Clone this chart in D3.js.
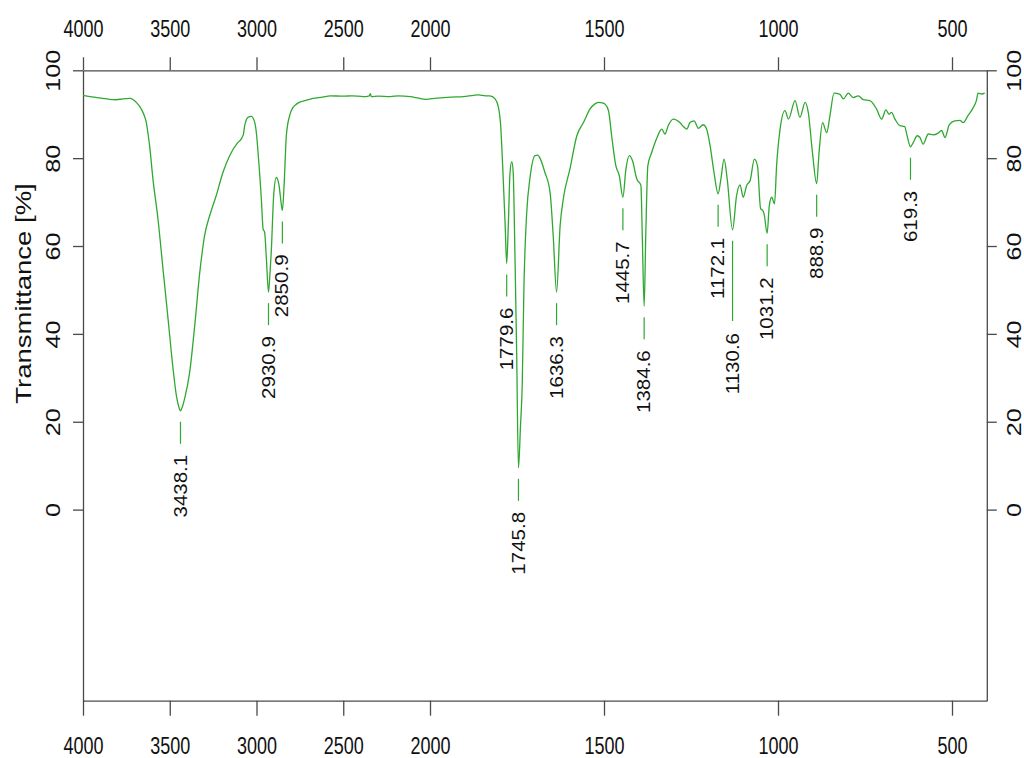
<!DOCTYPE html>
<html>
<head>
<meta charset="utf-8">
<script src="https://cdn.jsdelivr.net/npm/d3@7"></script>
<style>
  html, body { margin: 0; padding: 0; background: #fff; }
  svg { display: block; font-family: "Liberation Sans", Arial, Helvetica, sans-serif; }
</style>
</head>
<body>
<svg id="chart" width="1024" height="758"></svg>
<script>
// Wavenumber (cm-1) tick values shown on the top and bottom axes
const xTicks = [4000, 3500, 3000, 2500, 2000, 1500, 1000, 500];
// Transmittance ticks (%)
const yTicks = [0, 20, 40, 60, 80, 100];

// IR spectrum: [wavenumber, transmittance %]
const spectrum = [
  [4000, 94.3], [3960, 94.0], [3920, 93.8], [3885, 93.6], [3850, 93.4], [3808, 93.3],
  [3770, 93.5], [3731, 93.6], [3710, 93.3], [3693, 92.7], [3664, 91.2], [3645, 89.5],
  [3635, 88.1], [3625, 85.5], [3616, 82.8], [3597, 75.3], [3568, 66.2], [3539, 54.8],
  [3510, 43.5], [3481, 32.1], [3462, 26.0], [3448, 23.4], [3438.1, 22.5], [3428, 23.3],
  [3414, 25.3], [3385, 31.3], [3356, 41.9], [3327, 54.0], [3310, 59.5], [3299, 62.4],
  [3270, 66.9], [3232, 71.5], [3193, 76.8], [3154, 80.6], [3107, 83.6], [3087, 84.4],
  [3080, 85.0], [3076, 85.3], [3068, 87.4], [3049, 89.3], [3030, 89.5], [3010, 88.1],
  [3000, 85.5], [2991, 81.3], [2972, 70.7], [2962, 63.9], [2953, 63.1], [2943, 57.1],
  [2930.9, 49.5], [2922, 54.0], [2915, 58.6], [2901, 71.5], [2886, 75.6], [2870, 73.8],
  [2863, 71.5], [2850.9, 68.1], [2841, 73.8], [2828, 85.1], [2809, 89.7], [2790, 91.5],
  [2770, 92.3], [2740, 92.9], [2712, 93.2], [2674, 93.6], [2620, 93.9], [2575, 94.2],
  [2500, 94.1], [2450, 94.2], [2383, 94.0], [2350, 94.2], [2344, 94.7], [2338, 94.0],
  [2300, 94.1], [2229, 94.0], [2180, 94.2], [2114, 94.0], [2070, 93.7], [2027, 93.4],
  [2000, 93.5], [1971, 93.7], [1940, 93.9], [1904, 94.0], [1875, 94.3], [1861, 94.4],
  [1840, 94.2], [1828, 94.2], [1813, 93.5], [1804, 91.8], [1797, 87.5], [1791, 77.9],
  [1784, 64.7], [1779.6, 56.0], [1775, 64.7], [1770, 76.8], [1765, 79.2], [1761, 76.8],
  [1756, 58.6], [1751, 35.9], [1745.8, 9.5], [1740, 19.0], [1735, 28.3], [1730, 51.0],
  [1722, 67.7], [1713, 75.3], [1698, 80.6], [1690, 80.7], [1684, 80.0], [1670, 76.8],
  [1655, 72.2], [1646, 62.4], [1636.3, 49.5], [1626, 64.7], [1617, 70.7], [1598, 77.5],
  [1578, 85.1], [1559, 88.1], [1540, 91.2], [1527, 92.3], [1516, 92.7], [1505, 92.6],
  [1497, 92.3], [1487, 90.8], [1478, 85.1], [1466, 78.3], [1456, 76.0], [1445.7, 71.1],
  [1437, 77.5], [1427, 80.6], [1418, 79.4], [1406, 75.3], [1394, 73.8], [1390, 62.4],
  [1384.6, 46.3], [1380, 62.4], [1374, 78.3], [1363, 81.3], [1353, 83.6], [1349, 84.4],
  [1334, 86.6], [1325, 85.5], [1315, 87.5], [1301, 88.9], [1282, 88.1], [1272, 87.2],
  [1262, 86.6], [1253, 88.1], [1241, 88.5], [1229, 86.8], [1215, 87.6], [1205, 86.6],
  [1195, 82.8], [1184, 76.8], [1172.1, 71.9], [1164, 75.3], [1155, 79.8], [1146, 75.3],
  [1130.6, 63.7], [1119, 71.5], [1109, 73.9], [1100, 71.1], [1090, 73.8], [1080, 74.9],
  [1068, 79.8], [1059, 78.3], [1050, 68.5], [1044, 68.1], [1040, 67.3], [1031.2, 62.9],
  [1025, 69.2], [1018, 71.1], [1010, 69.6], [1004, 78.3], [994, 86.6], [980, 90.8],
  [970, 88.9], [951, 93.1], [937, 89.3], [922, 92.7], [913, 90.4], [901, 81.3],
  [888.9, 74.2], [882, 81.3], [872, 88.1], [860, 85.8], [851, 89.5], [839, 94.8],
  [822, 94.5], [812, 93.5], [798, 94.8], [784, 93.8], [769, 94.2], [755, 93.3],
  [736, 93.1], [717, 91.2], [702, 88.9], [690, 91.0], [681, 90.0], [674, 90.4],
  [664, 88.9], [650, 87.4], [636, 87.2], [629, 85.1], [619.3, 82.6], [611, 83.6],
  [600, 85.1], [592, 84.7], [583, 83.2], [568, 85.5], [554, 85.3], [540, 85.7],
  [530, 86.3], [520, 84.7], [508, 87.6], [492, 88.5], [477, 88.6], [468, 88.1],
  [454, 89.7], [439, 91.5], [430, 93.1], [425, 94.8], [415, 94.6], [406, 94.8]
];

// Labelled absorption bands (cm-1)
const peaks = [3438.1, 2930.9, 2850.9, 1779.6, 1745.8, 1636.3, 1445.7, 1384.6,
               1172.1, 1130.6, 1031.2, 888.9, 619.3];

const lineColor = "#2fa82f";
const axisColor = "#4a4a4a";

const svg = d3.select("#chart");

// Wavenumber axis is compressed 2:1 above 2000 cm-1
const x = d3.scaleLinear().domain([4000, 2000, 400]).range([83, 430, 986.8]);
const y = d3.scaleLinear().domain([-43.5, 100]).range([700.7, 70.3]);

// Frame lines drawn by the axes
function styleAxis(g) {
  g.selectAll("path.domain").attr("stroke", axisColor).attr("stroke-width", 1.3);
  g.selectAll(".tick line").attr("stroke", axisColor).attr("stroke-width", 1.3);
  g.selectAll(".tick text").attr("fill", "#111");
}

// Top axis
const gTop = svg.append("g").attr("transform", `translate(0,${y(100)})`)
  .call(d3.axisTop(x).tickValues(xTicks).tickSize(13).tickSizeOuter(0).tickFormat(d3.format("d")))
  .call(styleAxis);
gTop.selectAll(".tick text")
  .attr("y", null).attr("dy", null)
  .attr("font-size", 18)
  .attr("dominant-baseline", "central")
  .attr("transform", "translate(0,-41.5) scale(1,1.28)");

// Bottom axis
const gBot = svg.append("g").attr("transform", `translate(0,${y(-43.5)})`)
  .call(d3.axisBottom(x).tickValues(xTicks).tickSize(15).tickSizeOuter(0).tickFormat(d3.format("d")))
  .call(styleAxis);
gBot.selectAll(".tick text")
  .attr("y", null).attr("dy", null)
  .attr("font-size", 18)
  .attr("dominant-baseline", "central")
  .attr("transform", "translate(0,44.5) scale(1,1.28)");

// Left axis
const gLeft = svg.append("g").attr("transform", `translate(${x(4000)},0)`)
  .call(d3.axisLeft(y).tickValues(yTicks).tickSize(10).tickSizeOuter(0))
  .call(styleAxis);
gLeft.selectAll(".tick text")
  .attr("x", null).attr("dy", null)
  .attr("font-size", 21)
  .attr("text-anchor", "middle")
  .attr("dominant-baseline", "central")
  .attr("transform", "translate(-30.5,0) scale(1,1.2) rotate(-90)");

// Right axis
const gRight = svg.append("g").attr("transform", `translate(${x(400)},0)`)
  .call(d3.axisRight(y).tickValues(yTicks).tickSize(10).tickSizeOuter(0))
  .call(styleAxis);
gRight.selectAll(".tick text")
  .attr("x", null).attr("dy", null)
  .attr("font-size", 20)
  .attr("text-anchor", "middle")
  .attr("dominant-baseline", "central")
  .attr("transform", "translate(27.5,0) scale(1,1.25) rotate(-90)");

// Y axis title
svg.append("text")
  .attr("font-size", 22)
  .attr("fill", "#111")
  .attr("text-anchor", "middle")
  .attr("dominant-baseline", "central")
  .attr("transform", `translate(23,${(y(100) + y(-43.5)) / 2 - 92}) scale(1,1.25) rotate(-90)`)
  .text("Transmittance [%]");

// Spectrum trace
const line = d3.line()
  .x(d => x(d[0]))
  .y(d => y(d[1]))
  .curve(d3.curveMonotoneX);

svg.append("path")
  .datum(spectrum)
  .attr("fill", "none")
  .attr("stroke", lineColor)
  .attr("stroke-width", 1.3)
  .attr("stroke-linejoin", "round")
  .attr("d", line);

// Peak markers: short dash below each minimum followed by a rotated label
const labelScale = 1.14;
const placed = [];
const gPeaks = svg.append("g");
peaks.forEach(wn => {
  const pt = spectrum.find(d => d[0] === wn);
  const px = x(wn), py = y(pt[1]);
  const label = gPeaks.append("text")
    .attr("font-size", 18)
    .attr("fill", "#111")
    .attr("text-anchor", "end")
    .attr("dominant-baseline", "central")
    .text(wn.toFixed(1));
  const len = label.node().getComputedTextLength() * labelScale;
  let top = py + 44;
  let dashEnd = py + 33;
  placed.forEach(p => {
    if (Math.abs(p.x - px) < 20 && top < p.bottom + 4 && top + len > p.top - 4) {
      top = p.bottom + 34;
      dashEnd = top - 12;
    }
  });
  label.attr("transform", `translate(${px},${top}) scale(1,${labelScale}) rotate(-90)`);
  placed.push({ x: px, top: top, bottom: top + len });
  gPeaks.append("line")
    .attr("x1", px).attr("x2", px)
    .attr("y1", py + 11).attr("y2", dashEnd)
    .attr("stroke", lineColor)
    .attr("stroke-width", 1.2);
});
</script>
</body>
</html>
